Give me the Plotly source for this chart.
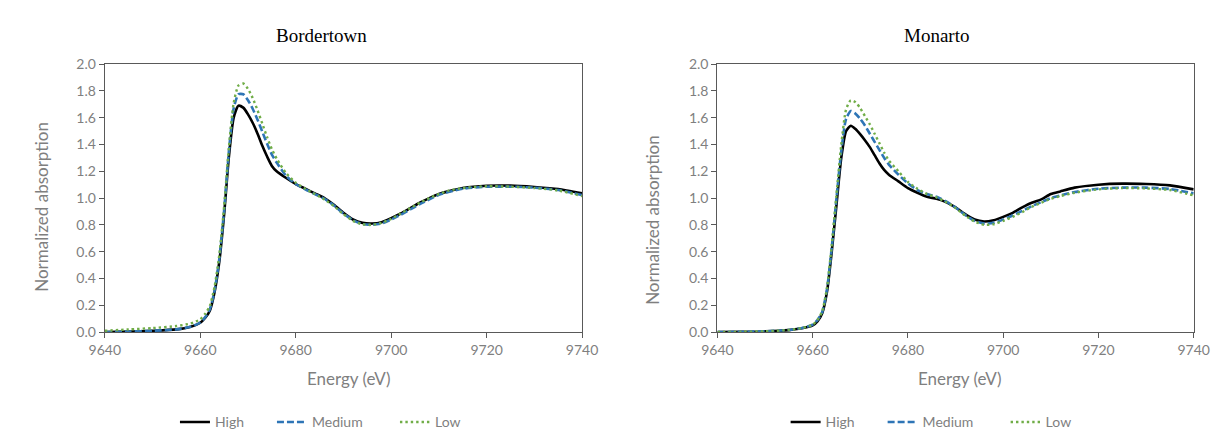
import plotly.graph_objects as go

# ---------------- data ----------------
energy = [9640, 9645, 9650, 9655, 9658, 9660, 9661, 9662, 9663, 9664, 9665, 9666, 9667,
          9668, 9669, 9670, 9671, 9672, 9673, 9674, 9675, 9676, 9678, 9680, 9682, 9684,
          9686, 9688, 9690, 9692, 9694, 9696, 9698, 9700, 9702, 9704, 9706, 9708, 9710,
          9712, 9715, 9720, 9725, 9730, 9735, 9740]

border_high = [0.000, 0.004, 0.010, 0.020, 0.040, 0.070, 0.105, 0.160, 0.300, 0.530, 0.880, 1.310, 1.600,
               1.690, 1.675, 1.625, 1.560, 1.480, 1.390, 1.310, 1.240, 1.200, 1.150, 1.105, 1.070, 1.035,
               1.000, 0.950, 0.890, 0.840, 0.815, 0.810, 0.820, 0.850, 0.885, 0.925, 0.965, 1.000, 1.030,
               1.050, 1.075, 1.092, 1.093, 1.083, 1.068, 1.035]
border_medium = [0.000, 0.004, 0.010, 0.020, 0.040, 0.072, 0.110, 0.170, 0.310, 0.550, 0.910, 1.350, 1.670,
                 1.775, 1.775, 1.730, 1.665, 1.585, 1.495, 1.405, 1.325, 1.265, 1.165, 1.105, 1.065, 1.030,
                 0.995, 0.945, 0.885, 0.835, 0.805, 0.800, 0.810, 0.840, 0.875, 0.915, 0.955, 0.990, 1.025,
                 1.045, 1.070, 1.085, 1.085, 1.078, 1.060, 1.022]
border_low = [0.010, 0.020, 0.030, 0.045, 0.065, 0.095, 0.135, 0.195, 0.340, 0.580, 0.940, 1.380, 1.710,
              1.840, 1.855, 1.815, 1.745, 1.655, 1.555, 1.455, 1.365, 1.295, 1.185, 1.115, 1.070, 1.030,
              0.990, 0.940, 0.880, 0.830, 0.805, 0.800, 0.815, 0.845, 0.885, 0.925, 0.965, 1.000, 1.030,
              1.055, 1.075, 1.088, 1.085, 1.075, 1.057, 1.015]

monarto_high = [0.000, 0.002, 0.005, 0.015, 0.030, 0.050, 0.080, 0.140, 0.300, 0.600, 0.950, 1.300, 1.500,
                1.540, 1.515, 1.475, 1.430, 1.380, 1.320, 1.260, 1.210, 1.175, 1.125, 1.075, 1.040, 1.010,
                0.995, 0.970, 0.930, 0.880, 0.840, 0.825, 0.835, 0.860, 0.890, 0.930, 0.965, 0.990, 1.030,
                1.050, 1.078, 1.100, 1.108, 1.105, 1.095, 1.065]
monarto_medium = [0.000, 0.002, 0.006, 0.016, 0.032, 0.055, 0.090, 0.150, 0.320, 0.630, 1.000, 1.350, 1.590,
                  1.650, 1.630, 1.590, 1.540, 1.480, 1.420, 1.360, 1.300, 1.250, 1.175, 1.110, 1.060, 1.030,
                  1.010, 0.975, 0.930, 0.875, 0.830, 0.810, 0.815, 0.840, 0.870, 0.905, 0.940, 0.970, 1.000,
                  1.020, 1.045, 1.070, 1.078, 1.078, 1.068, 1.035]
monarto_low = [0.000, 0.002, 0.006, 0.016, 0.032, 0.055, 0.090, 0.155, 0.330, 0.650, 1.030, 1.400, 1.660,
               1.730, 1.715, 1.670, 1.610, 1.550, 1.480, 1.410, 1.340, 1.280, 1.200, 1.120, 1.070, 1.030,
               1.005, 0.970, 0.925, 0.870, 0.825, 0.800, 0.805, 0.830, 0.860, 0.895, 0.935, 0.965, 0.995,
               1.015, 1.040, 1.065, 1.075, 1.072, 1.060, 1.020]

series_names = ["High", "Medium", "Low"]
panel_titles = ["Bordertown", "Monarto"]
x_ticks = [9640, 9660, 9680, 9700, 9720, 9740]
y_ticks = [0.0, 0.2, 0.4, 0.6, 0.8, 1.0, 1.2, 1.4, 1.6, 1.8, 2.0]
x_title = "Energy (eV)"
y_title = "Normalized absorption"

# ---------------- style ----------------
W, H = 1228, 432
styles = [dict(color="#000000", width=2.6, dash="solid", lw=52),
          dict(color="#2E75B6", width=2.6, dash="7px,3px", lw=78),
          dict(color="#70AD47", width=2.4, dash="2.4px,3px", lw=40)]
axis_col = "#595959"
text_col = "#7F7F7F"
sans = "Lato, 'Open Sans', sans-serif"
serif = "'Liberation Serif', 'Times New Roman', serif"

fig = go.Figure()
panels = [(border_high, border_medium, border_low), (monarto_high, monarto_medium, monarto_low)]
for p, data in enumerate(panels):
    xa = "x" if p == 0 else "x2"
    ya = "y" if p == 0 else "y2"
    lg = "legend" if p == 0 else "legend2"
    for name, vals, st in zip(series_names, data, styles):
        fig.add_trace(go.Scatter(x=energy, y=vals, mode="lines", name=name,
                                 line=dict(color=st["color"], width=st["width"], dash=st["dash"],
                                           shape="spline", smoothing=0.6),
                                 legendwidth=st["lw"],
                                 xaxis=xa, yaxis=ya, legend=lg))

def px_x(v):
    return v / W

def px_y(v):
    return 1 - v / H

ax_common = dict(showline=True, linecolor=axis_col, linewidth=1.3, mirror=True,
                 ticks="outside", ticklen=5, tickcolor=axis_col, tickwidth=1.3,
                 showgrid=False, zeroline=False,
                 tickfont=dict(family=sans, size=14, color=text_col))

x_domains = [(px_x(83), px_x(573)), (px_x(712), px_x(1201))]
y_domain = (px_y(328), px_y(49))

fig.update_layout(
    width=W, height=H, margin=dict(l=0, r=0, t=0, b=0),
    paper_bgcolor="white", plot_bgcolor="white", showlegend=True,
    xaxis=dict(domain=x_domains[0], range=[9640, 9740], tickvals=x_ticks, anchor="y", **ax_common),
    yaxis=dict(domain=y_domain, range=[0, 2.0], tickvals=y_ticks, tickformat=".1f", anchor="x", **ax_common),
    xaxis2=dict(domain=x_domains[1], range=[9640, 9740], tickvals=x_ticks, anchor="y2", **ax_common),
    yaxis2=dict(domain=y_domain, range=[0, 2.0], tickvals=y_ticks, tickformat=".1f", anchor="x2", **ax_common),
    legend=dict(orientation="h", x=px_x(155), y=px_y(422), xanchor="left", yanchor="middle",
                font=dict(family=sans, size=14, color=text_col), bgcolor="rgba(0,0,0,0)"),
    legend2=dict(orientation="h", x=px_x(782), y=px_y(422), xanchor="left", yanchor="middle",
                 font=dict(family=sans, size=14, color=text_col), bgcolor="rgba(0,0,0,0)"),
)

annotations = []
title_pos = [(305, 19), (937, 19)]
ytitle_pos = [(18, 198), (646, 211)]
xtitle_pos = [(333, 376), (961, 376)]
for i in range(2):
    annotations.append(dict(text=panel_titles[i], x=px_x(title_pos[i][0]), y=px_y(title_pos[i][1]),
                            xref="paper", yref="paper", showarrow=False, xanchor="center", yanchor="middle",
                            font=dict(family=serif, size=19, color="#000000")))
    annotations.append(dict(text=y_title, x=px_x(ytitle_pos[i][0]), y=px_y(ytitle_pos[i][1]),
                            xref="paper", yref="paper", showarrow=False, textangle=-90,
                            xanchor="center", yanchor="middle",
                            font=dict(family=sans, size=17, color=text_col)))
    annotations.append(dict(text=x_title, x=px_x(xtitle_pos[i][0]), y=px_y(xtitle_pos[i][1]),
                            xref="paper", yref="paper", showarrow=False, xanchor="center", yanchor="middle",
                            font=dict(family=sans, size=17, color=text_col)))
fig.update_layout(annotations=annotations)

fig.write_html("out.html")
